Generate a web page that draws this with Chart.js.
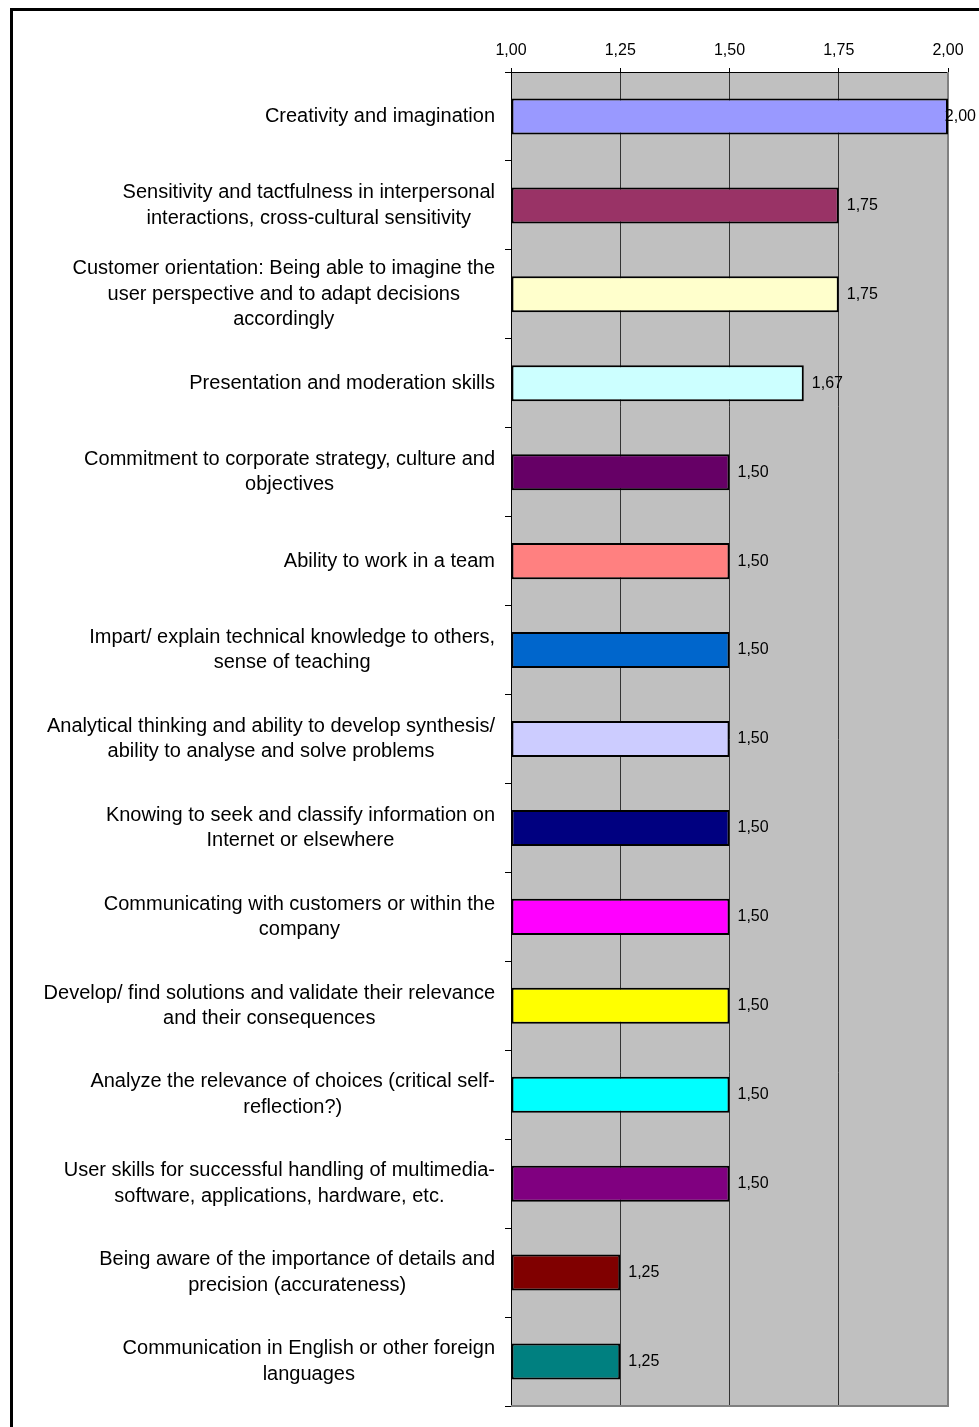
<!DOCTYPE html>
<html>
<head>
<meta charset="utf-8">
<script src="https://cdn.jsdelivr.net/npm/chart.js@4.4.0/dist/chart.umd.min.js"></script>
<style>
  html, body { margin: 0; padding: 0; overflow: hidden; background: #fff; }
  #frame { position: absolute; left: 10px; top: 8px; width: 1000px; height: 1450px; border: 3px solid #000; }
  #chart { position: absolute; left: 0; top: 0; }
</style>
</head>
<body>
<div id="frame"></div>
<canvas id="chart" width="979" height="1427"></canvas>
<script>
// Data
const skills = [
    ['Creativity and imagination'],
    ['Sensitivity and tactfulness in interpersonal', 'interactions, cross-cultural sensitivity'],
    ['Customer orientation: Being able to imagine the', 'user perspective and to adapt decisions', 'accordingly'],
    ['Presentation and moderation skills'],
    ['Commitment to corporate strategy, culture and', 'objectives'],
    ['Ability to work in a team'],
    ['Impart/ explain technical knowledge to others,', 'sense of teaching'],
    ['Analytical thinking and ability to develop synthesis/', 'ability to analyse and solve problems'],
    ['Knowing to seek and classify information on', 'Internet or elsewhere'],
    ['Communicating with customers or within the', 'company'],
    ['Develop/ find solutions and validate their relevance', 'and their consequences'],
    ['Analyze the relevance of choices (critical self-', 'reflection?)'],
    ['User skills for successful handling of multimedia-', 'software, applications, hardware, etc.'],
    ['Being aware of the importance of details and', 'precision (accurateness)'],
    ['Communication in English or other foreign', 'languages']
];
const scores = [2.00, 1.75, 1.75, 1.67, 1.50, 1.50, 1.50, 1.50, 1.50, 1.50, 1.50, 1.50, 1.50, 1.25, 1.25];
const barColors = ['#9999FF', '#993366', '#FFFFCC', '#CCFFFF', '#660066', '#FF8080', '#0066CC', '#CCCCFF',
    '#000080', '#FF00FF', '#FFFF00', '#00FFFF', '#800080', '#800000', '#008080'];
const scoreTicks = [1.00, 1.25, 1.50, 1.75, 2.00];

const FONT = '"Liberation Sans", Arial, sans-serif';
const fmt = v => v.toFixed(2).replace('.', ',');

// gray plot area, gray right/bottom edge
const plotArea = {
    id: 'plotArea',
    beforeDraw(chart) {
        const { ctx, chartArea: a } = chart;
        ctx.save();
        ctx.fillStyle = '#C0C0C0';
        ctx.fillRect(a.left, a.top, a.right - a.left, a.bottom - a.top);
        ctx.restore();
    },
    beforeDatasetsDraw(chart) {
        const { ctx, chartArea: a } = chart;
        ctx.save();
        ctx.strokeStyle = '#808080';
        ctx.lineWidth = 2;
        ctx.beginPath();
        ctx.moveTo(a.right, a.top);
        ctx.lineTo(a.right, a.bottom);
        ctx.lineTo(a.left, a.bottom);
        ctx.stroke();
        ctx.restore();
    }
};

// category labels: block right-aligned, lines centered inside the block
const skillLabels = {
    id: 'skillLabels',
    afterDraw(chart) {
        const { ctx } = chart;
        const yScale = chart.scales.y;
        const right = chart.chartArea.left - 16;
        const lineH = 25.5;
        ctx.save();
        ctx.font = '20px ' + FONT;
        ctx.fillStyle = '#000';
        ctx.textAlign = 'center';
        ctx.textBaseline = 'middle';
        skills.forEach((lines, i) => {
            const widest = Math.max(...lines.map(l => ctx.measureText(l).width));
            const cx = right - widest / 2;
            const cy = yScale.getPixelForValue(i);
            lines.forEach((l, k) => {
                ctx.fillText(l, cx, cy + (k - (lines.length - 1) / 2) * lineH);
            });
        });
        ctx.restore();
    }
};

// value labels right of each bar
const valueLabels = {
    id: 'valueLabels',
    afterDatasetsDraw(chart) {
        const { ctx } = chart;
        const meta = chart.getDatasetMeta(0);
        ctx.save();
        ctx.font = '16px ' + FONT;
        ctx.fillStyle = '#000';
        ctx.textAlign = 'left';
        ctx.textBaseline = 'middle';
        meta.data.forEach((bar, i) => {
            const txt = fmt(scores[i]);
            const w = ctx.measureText(txt).width;
            const x = Math.min(bar.x + 8, chart.width - w - 3);
            ctx.fillText(txt, x, bar.y);
        });
        ctx.restore();
    }
};

new Chart(document.getElementById('chart').getContext('2d'), {
    type: 'bar',
    data: {
        labels: skills.map(l => l.join(' ')),
        datasets: [{
            data: scores,
            base: 1,
            backgroundColor: barColors,
            borderColor: '#000',
            borderWidth: 2,
            borderSkipped: false,
            barPercentage: 0.405,
            categoryPercentage: 1
        }]
    },
    options: {
        indexAxis: 'y',
        responsive: false,
        devicePixelRatio: 1,
        animation: false,
        layout: { padding: { top: 0, right: 31, bottom: 21, left: 0 } },
        plugins: { legend: { display: false }, tooltip: { enabled: false } },
        scales: {
            x: {
                position: 'top',
                min: 1,
                max: 2,
                afterBuildTicks: s => { s.ticks = scoreTicks.map(v => ({ value: v })); },
                afterFit: s => { s.height = 72; },
                ticks: {
                    color: '#000',
                    font: { family: FONT, size: 16 },
                    padding: 8,
                    callback: v => fmt(v)
                },
                grid: { color: '#333', lineWidth: 1, tickLength: 4, tickColor: '#000' },
                border: { color: '#000', width: 1 }
            },
            y: {
                afterFit: s => { s.width = 511; },
                ticks: { display: false },
                grid: { offset: true, drawOnChartArea: false, color: '#000', tickLength: 6 },
                border: { color: '#000', width: 1 }
            }
        }
    },
    plugins: [plotArea, skillLabels, valueLabels]
});
</script>
</body>
</html>
